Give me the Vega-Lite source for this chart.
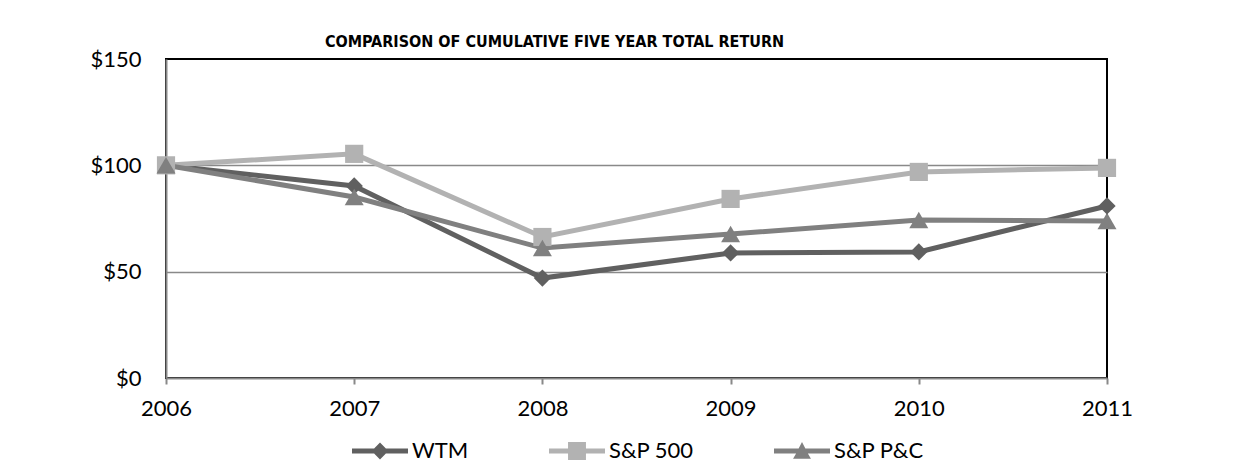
{
  "$schema": "https://vega.github.io/schema/vega-lite/v6.json",
  "width": 941,
  "height": 319,
  "autosize": {"type": "none"},
  "padding": {"left": 166, "top": 59, "right": 141, "bottom": 94},
  "background": "white",
  "title": {
    "text": "COMPARISON OF CUMULATIVE FIVE YEAR TOTAL RETURN",
    "font": "DejaVu Sans Condensed",
    "fontSize": 16,
    "fontWeight": "bold",
    "color": "black",
    "anchor": "middle",
    "dx": -82,
    "dy": 27,
    "baseline": "alphabetic",
    "offset": 12
  },
  "config": {
    "font": "Lato",
    "view": {"stroke": "black", "strokeWidth": 2},
    "axis": {"labelFont": "Lato", "labelFontSize": 22, "labelColor": "black", "titleFont": "Lato"}
  },
  "data": {
    "values": [
      {"year": 2006, "series": "WTM", "value": 100},
      {"year": 2007, "series": "WTM", "value": 90.3},
      {"year": 2008, "series": "WTM", "value": 47.0},
      {"year": 2009, "series": "WTM", "value": 58.8},
      {"year": 2010, "series": "WTM", "value": 59.3},
      {"year": 2011, "series": "WTM", "value": 80.9},
      {"year": 2006, "series": "S&P 500", "value": 100},
      {"year": 2007, "series": "S&P 500", "value": 105.4},
      {"year": 2008, "series": "S&P 500", "value": 66.3},
      {"year": 2009, "series": "S&P 500", "value": 84.2},
      {"year": 2010, "series": "S&P 500", "value": 96.9},
      {"year": 2011, "series": "S&P 500", "value": 98.8},
      {"year": 2006, "series": "S&P P&C", "value": 100},
      {"year": 2007, "series": "S&P P&C", "value": 85.1},
      {"year": 2008, "series": "S&P P&C", "value": 61.1},
      {"year": 2009, "series": "S&P P&C", "value": 67.7},
      {"year": 2010, "series": "S&P P&C", "value": 74.3},
      {"year": 2011, "series": "S&P P&C", "value": 73.8}
    ]
  },
  "encoding": {
    "x": {
      "field": "year",
      "type": "quantitative",
      "scale": {"domain": [2006, 2011], "nice": false, "zero": false},
      "axis": {
        "title": null,
        "values": [2006, 2007, 2008, 2009, 2010, 2011],
        "format": "d",
        "grid": false,
        "domainColor": "#898989",
        "domainWidth": 2,
        "tickColor": "#898989",
        "tickWidth": 2,
        "tickSize": 6,
        "labelPadding": 14,
        "labelFlush": false
      }
    },
    "y": {
      "field": "value",
      "type": "quantitative",
      "scale": {"domain": [0, 150], "nice": false},
      "axis": {
        "title": null,
        "values": [0, 50, 100, 150],
        "labelExpr": "'$' + datum.value",
        "ticks": false,
        "grid": true,
        "gridColor": "#898989",
        "gridWidth": 1.5,
        "gridOpacity": {"condition": {"test": "datum.value == 150 || datum.value == 0", "value": 0}, "value": 1},
        "domainColor": "#898989",
        "domainWidth": 2,
        "labelPadding": 25,
        "labelFlush": false
      }
    }
  },
  "layer": [
    {
      "mark": {"type": "line", "strokeWidth": 5},
      "encoding": {"color": {"field": "series", "type": "nominal", "legend": null, "scale": {"domain": ["WTM", "S&P 500", "S&P P&C"], "range": ["#606060", "#b2b2b2", "#808080"]}}}
    },
    {
      "mark": {"type": "point", "filled": true, "opacity": 1},
      "encoding": {
        "shape": {
          "field": "series",
          "type": "nominal",
          "legend": null,
          "scale": {"domain": ["WTM", "S&P 500", "S&P P&C"], "range": ["diamond", "square", "triangle-up"]}
        },
        "size": {
          "field": "series",
          "type": "nominal",
          "legend": null,
          "scale": {"domain": ["WTM", "S&P 500", "S&P P&C"], "range": [300, 361, 330]}
        },
        "color": {"field": "series", "type": "nominal", "legend": null, "scale": {"domain": ["WTM", "S&P 500", "S&P P&C"], "range": ["#606060", "#b2b2b2", "#808080"]}}
      }
    },
    {
      "transform": [{"filter": "false"}],
      "mark": {"type": "point", "filled": true, "opacity": 1, "size": 3136},
      "encoding": {
        "shape": {
          "field": "series",
          "type": "nominal",
          "scale": {
            "domain": ["WTM", "S&P 500", "S&P P&C"],
            "range": [
              "M-1,-0.09L-0.21,-0.09L0,-0.3L0.21,-0.09L1,-0.09L1,0.09L0.21,0.09L0,0.3L-0.21,0.09L-1,0.09Z",
              "M-1,-0.09L-0.32,-0.09L-0.32,-0.32L0.32,-0.32L0.32,-0.09L1,-0.09L1,0.09L0.32,0.09L0.32,0.32L-0.32,0.32L-0.32,0.09L-1,0.09Z",
              "M-1,-0.09L-0.12,-0.09L0,-0.32L0.12,-0.09L1,-0.09L1,0.09L0.21,0.09L0.32,0.28L-0.32,0.28L-0.21,0.09L-1,0.09Z"
            ]
          },
          "legend": {
            "title": null,
            "orient": "none",
            "direction": "horizontal",
            "legendX": 186,
            "legendY": 364,
            "labelFont": "Lato",
            "labelFontSize": 22,
            "labelColor": "black",
            "labelOffset": 4,
            "columnPadding": 80,
            "symbolSize": 3136,
            "symbolStrokeWidth": 0,
            "symbolOpacity": 1
          }
        },
        "color": {
          "field": "series",
          "type": "nominal",
          "scale": {"domain": ["WTM", "S&P 500", "S&P P&C"], "range": ["#606060", "#b2b2b2", "#808080"]},
          "legend": {
            "title": null,
            "orient": "none",
            "direction": "horizontal",
            "legendX": 186,
            "legendY": 364,
            "labelFont": "Lato",
            "labelFontSize": 22,
            "labelColor": "black",
            "labelOffset": 4,
            "columnPadding": 80,
            "symbolSize": 3136,
            "symbolStrokeWidth": 0,
            "symbolOpacity": 1
          }
        }
      }
    }
  ],
  "resolve": {
    "scale": {"shape": "independent", "size": "independent", "color": "independent"},
    "legend": {"shape": "independent", "color": "independent"}
  }
}
